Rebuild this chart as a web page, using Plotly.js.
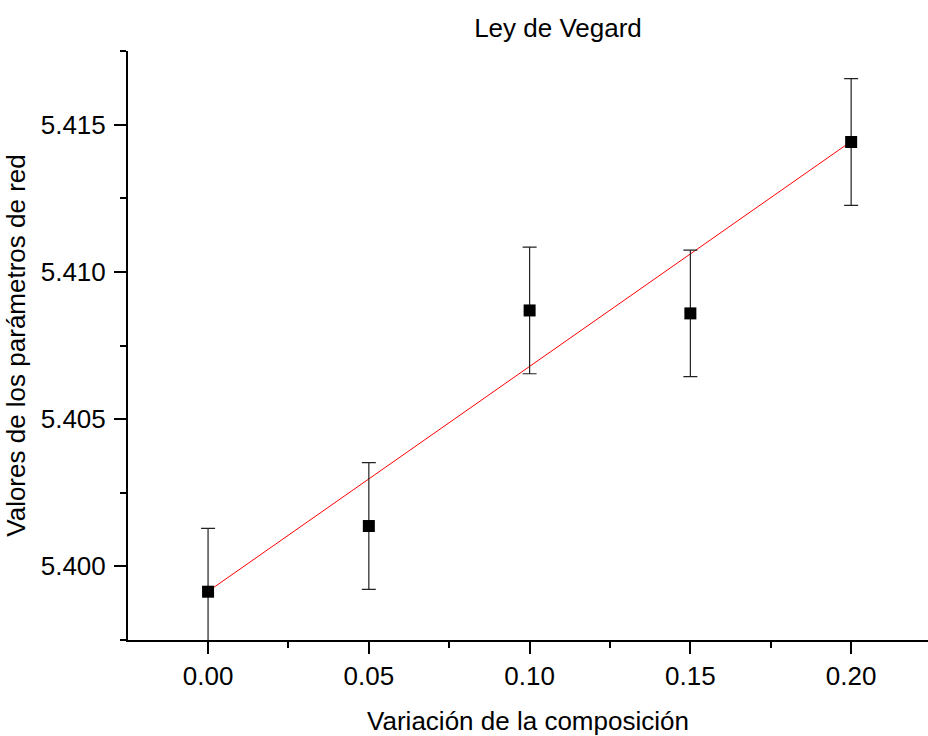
<!DOCTYPE html>
<html>
<head>
<meta charset="utf-8">
<script src="https://cdn.plot.ly/plotly-3.0.1.min.js"></script>
<style>html,body{margin:0;padding:0;background:#fff;}#chart{width:928px;height:736px;}</style>
</head>
<body>
<div id="chart"></div>
<script>
// Data
const composition = [0.00, 0.05, 0.10, 0.15, 0.20];
const latticeParam = [5.39914, 5.40137, 5.40869, 5.40859, 5.41441];
const latticeErr = [0.00215, 0.00215, 0.00215, 0.00215, 0.00215];
const fitX = [0.00, 0.20];
const fitY = [5.39915, 5.41443];
const xTickVals = [0.00, 0.05, 0.10, 0.15, 0.20];
const xTickText = ['0.00', '0.05', '0.10', '0.15', '0.20'];
const yTickVals = [5.400, 5.405, 5.410, 5.415];
const yTickText = ['5.400', '5.405', '5.410', '5.415'];

const FONT = '"Liberation Sans", Arial, sans-serif';

const traces = [
  {
    x: fitX, y: fitY, type: 'scatter', mode: 'lines',
    line: {color: '#ff0000', width: 1},
    hoverinfo: 'skip', showlegend: false
  },
  {
    x: composition, y: latticeParam, type: 'scatter', mode: 'markers',
    marker: {symbol: 'square', size: 12, color: '#000000'},
    error_y: {type: 'data', array: latticeErr, visible: true, color: '#222222', thickness: 1.2, width: 7},
    showlegend: false
  }
];

const layout = {
  width: 928, height: 736,
  paper_bgcolor: '#ffffff', plot_bgcolor: '#ffffff',
  margin: {l: 128, r: 0, t: 51, b: 96, pad: 0},
  font: {family: FONT, size: 26, color: '#000000'},
  title: {
    text: 'Ley de Vegard',
    font: {family: FONT, size: 26, color: '#000000'},
    xref: 'container', yref: 'container',
    x: 558 / 928, xanchor: 'center',
    y: 1 - 28 / 736, yanchor: 'middle'
  },
  xaxis: {
    range: [-0.0249, 0.2239],
    tickmode: 'array', tickvals: xTickVals, ticktext: xTickText,
    ticks: 'outside', ticklen: 12, tickwidth: 2, tickcolor: '#000',
    minor: {dtick: 0.025, tick0: -0.025, ticks: 'outside', ticklen: 6, tickwidth: 2, tickcolor: '#000'},
    showline: true, linecolor: '#000', linewidth: 2,
    showgrid: false, zeroline: false,
    tickfont: {family: FONT, size: 26, color: '#000'},
    ticklabelstandoff: 0,
    title: {text: 'Variación de la composición', font: {family: FONT, size: 26, color: '#000'}, standoff: 26}
  },
  yaxis: {
    range: [5.3975, 5.4175],
    tickmode: 'array', tickvals: yTickVals, ticktext: yTickText,
    ticks: 'outside', ticklen: 12, tickwidth: 2, tickcolor: '#000',
    minor: {dtick: 0.0025, tick0: 5.3975, ticks: 'outside', ticklen: 6, tickwidth: 2, tickcolor: '#000'},
    showline: true, linecolor: '#000', linewidth: 2,
    showgrid: false, zeroline: false,
    tickfont: {family: FONT, size: 26, color: '#000'},
    ticklabelstandoff: 3,
    title: {text: 'Valores de los parámetros de red', font: {family: FONT, size: 26, color: '#000'}, standoff: 8}
  }
};

Plotly.newPlot('chart', traces, layout, {displayModeBar: false, staticPlot: true});
</script>
</body>
</html>
